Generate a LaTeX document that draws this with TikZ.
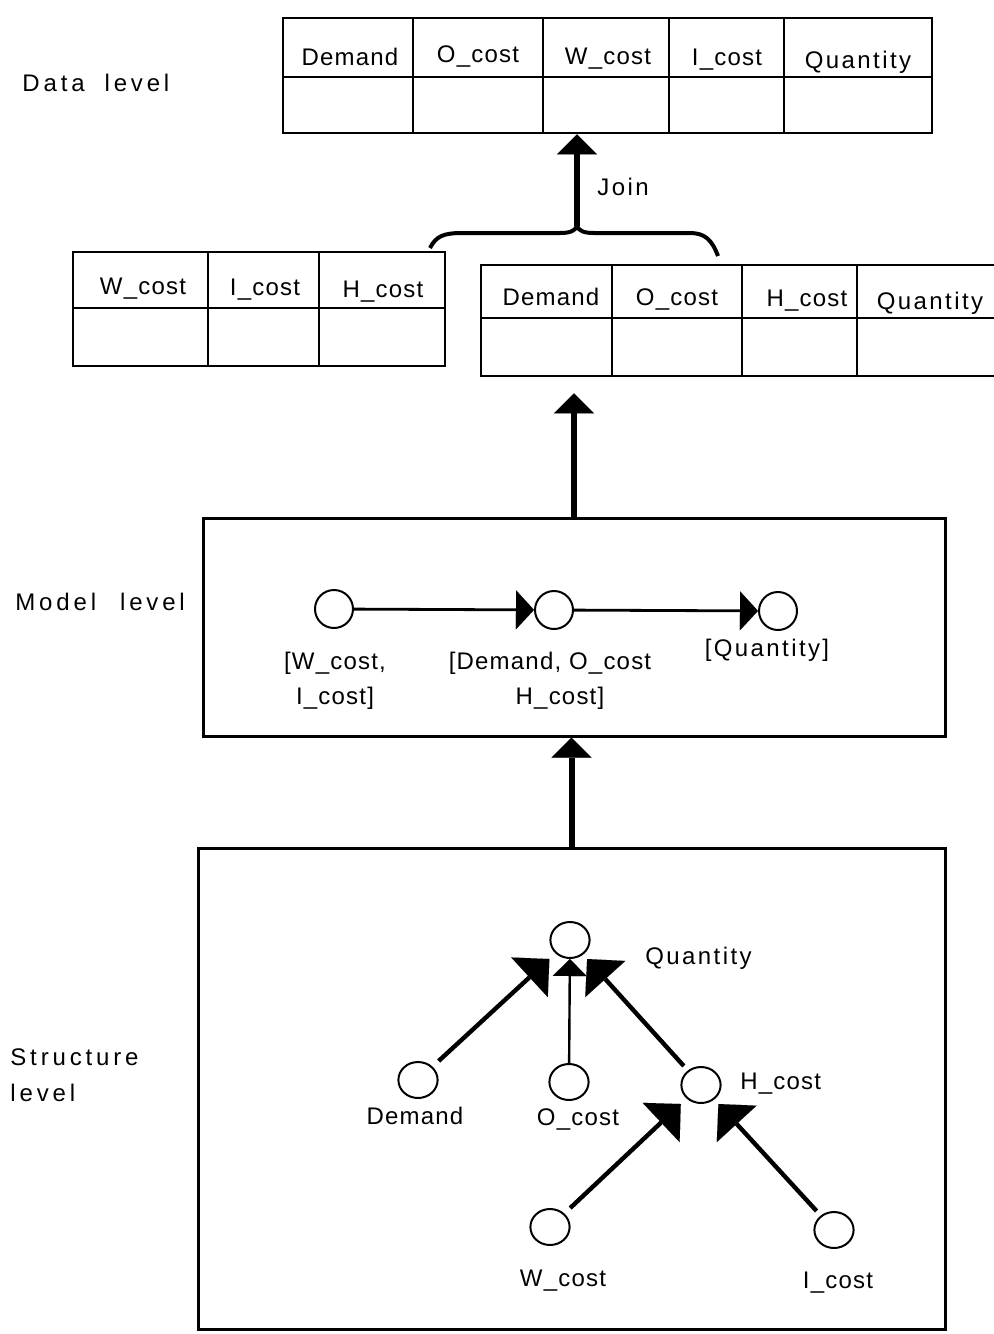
\documentclass[tikz,border=0pt]{standalone}
\usepackage{fontspec}
\setmainfont{Liberation Sans}
\newfontfamily\labfont[LetterSpace=5]{Liberation Sans}
\newfontfamily\widefont[LetterSpace=10]{Liberation Sans}
\newfontfamily\lvlfont[LetterSpace=16]{Liberation Sans}
\usetikzlibrary{arrows.meta,fit}

\begin{document}
\begin{tikzpicture}[x=0.5pt,y=-0.5pt,
  lab/.style={inner sep=0pt, font=\fontsize{12}{17.5}\labfont},
  widelab/.style={inner sep=0pt, font=\fontsize{12}{17.5}\widefont},
  lvl/.style={inner sep=0pt, anchor=west, align=left, font=\fontsize{12}{18}\lvlfont},
  box/.style={draw, line width=1.5pt, inner sep=0pt},
  tab/.style={draw, line width=1.3pt, inner sep=0pt},
  tline/.style={line width=1.2pt},
  bigarrow/.style={line width=3pt, -{Triangle[length=10pt, width=20pt, line width=0.01pt]}},
  marrow/.style={line width=1.4pt, -{Triangle[length=9pt, width=19.5pt, line width=0.01pt]}},
  sarrow/.style={line width=2.2pt, -{Triangle[length=13.5pt, width=27pt, line width=0.01pt]}},
  oarrow/.style={line width=1.2pt, -{Triangle[length=8.5pt, width=17pt, line width=0.01pt]}},
  mnode/.style={circle, draw, line width=1pt, minimum size=19pt, inner sep=0pt},
  snode/.style={rectangle, minimum width=21pt, minimum height=19pt, inner sep=0pt, outer sep=0pt,
    path picture={\draw[line width=1pt] (path picture bounding box.center)
      ellipse [x radius=9.8pt, y radius=9pt];}}
]
\useasboundingbox (0,0) rectangle (994,1334);
\clip (0,0) rectangle (994,1334);

% ---------------- level captions ----------------
\node[lvl] (capdata) at (22,83) {Data\hspace{10pt}level};
\node[lvl] (capmodel) at (15,602) {Model\hspace{12pt}level};
\node[lvl] (capstruct) at (10,1075) {Structure\\level};

% ---------------- data level: joined table ----------------
\node[tab, fit={(283,18) (932,133)}] (dt) {};
\draw[tline] (283,77) -- (932,77);
\foreach \x in {413,543,669,784} \draw[tline] (\x,18) -- (\x,133);
\node[lab] (dt1) at (350,57) {Demand};
\node[lab] (dt2) at (478,57) {O\_cost};
\node[lab] (dt3) at (608,59) {W\_cost};
\node[lab] (dt4) at (727,60) {I\_cost};
\node[widelab] (dt5) at (858,62) {Quantity};

% ---------------- two source tables ----------------
\node[tab, fit={(73,252) (445,366)}] (lt) {};
\draw[tline] (73,308) -- (445,308);
\foreach \x in {208,319} \draw[tline] (\x,252) -- (\x,366);
\node[lab] (lt1) at (143,289) {W\_cost};
\node[lab] (lt2) at (265,290) {I\_cost};
\node[lab] (lt3) at (383,292) {H\_cost};

\node[tab, fit={(481,265) (1010,376)}] (rt) {};
\draw[tline] (481,318) -- (1010,318);
\foreach \x in {612,742,857} \draw[tline] (\x,265) -- (\x,376);
\node[lab] (rt1) at (551,297) {Demand};
\node[lab] (rt2) at (677,299) {O\_cost};
\node[lab] (rt3) at (807,301) {H\_cost};
\node[widelab] (rt4) at (930,303) {Quantity};

% brace gathering both tables, and the join arrow
\coordinate (jt) at (577,226);
\draw[line width=2pt, line join=round]
  (430,248) .. controls (436,236) and (444,233) .. (462,233) -- (560,233)
  .. controls (570,233) and (575,231) .. (jt)
  .. controls (579,231) and (584,233) .. (594,233) -- (690,233)
  .. controls (705,233) and (712,240) .. (718,256);
\draw[bigarrow] (jt) -- (jt |- dt.south);
\node[widelab, anchor=west] (join) at (597,187) {Join};

% ---------------- model level ----------------
\node[box, fit={(203,518) (945,736)}] (mbox) {};
\draw[bigarrow, shorten >=8pt] (mbox.north) -- (mbox.north |- rt.south);

\node[mnode] (m1) at (334,609) {};
\node[mnode] (m2) at (554,610) {};
\node[mnode] (m3) at (778,611) {};
\draw[marrow] (m1) -- (m2);
\draw[marrow] (m2) -- (m3);
\node[lab, align=center] (ml1) at (335,681) {[W\_cost,\\I\_cost]};
\node[lab, align=center] (ml2) at (550,681) {[Demand, O\_cost\\\hspace{10pt}H\_cost]};
\node[widelab] (ml3) at (767,650) {[Quantity]};

% ---------------- structure level ----------------
\node[box, fit={(198,848) (945,1329)}] (sbox) {};
\draw[bigarrow] (sbox.north) -- (sbox.north |- mbox.south);

\node[snode] (q) at (570,940) {};
\node[snode] (d) at (418,1080) {};
\node[snode] (o) at (569,1082) {};
\node[snode] (h) at (701,1085) {};
\node[snode] (w) at (550,1227) {};
\node[snode] (i) at (834,1230) {};

\draw[oarrow] (o) -- (q);
\draw[sarrow] (d) -- (q);
\draw[sarrow] (h) -- (q);
\draw[sarrow] (w) -- (h);
\draw[sarrow] (i) -- (h);

\node[widelab, anchor=west] (ql) at (645,958) {Quantity};
\node[lab] (dl) at (415,1116) {Demand};
\node[lab] (ol) at (578,1119) {O\_cost};
\node[lab, anchor=west] (hl) at (740,1084) {H\_cost};
\node[lab] (wl) at (563,1281) {W\_cost};
\node[lab] (il) at (838,1283) {I\_cost};
\end{tikzpicture}
\end{document}
